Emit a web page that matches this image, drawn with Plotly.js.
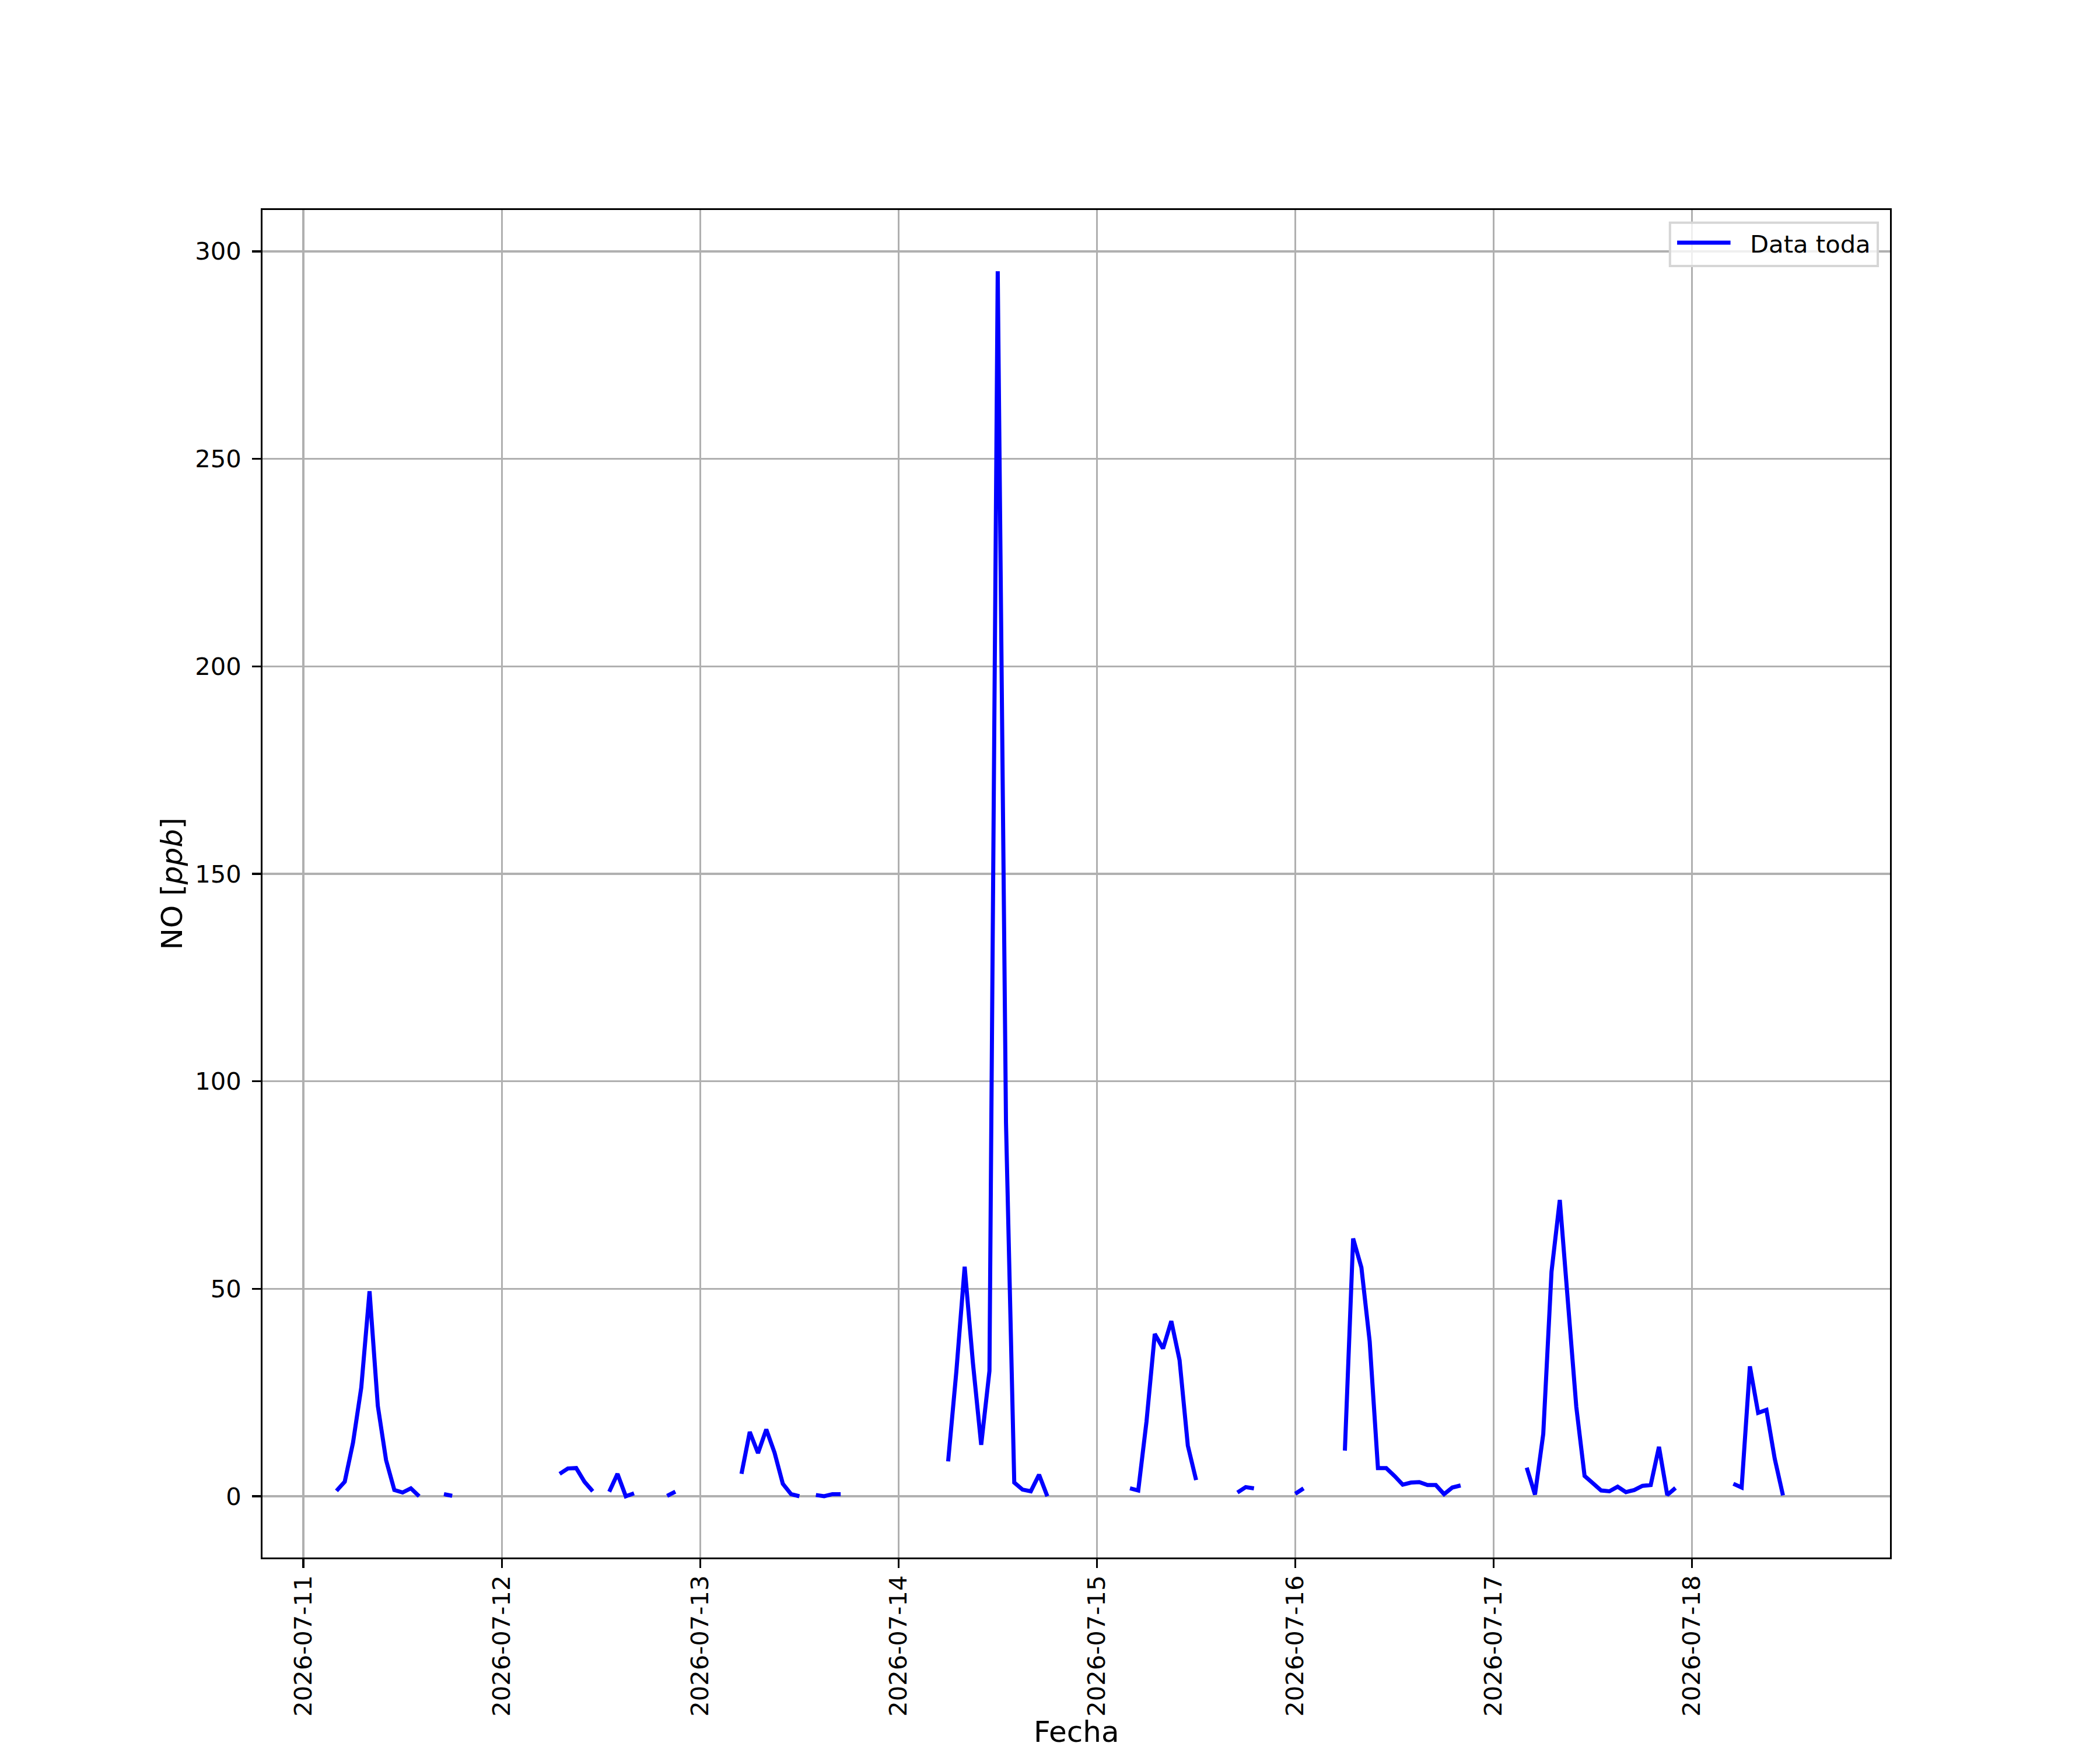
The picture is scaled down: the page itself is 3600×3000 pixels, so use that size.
<!DOCTYPE html>
<html>
<head>
<meta charset="utf-8">
<script src="https://cdn.plot.ly/plotly-3.0.1.min.js"></script>
<style>html,body{margin:0;padding:0;background:#fff;}</style>
</head>
<body>
<div id="chart" style="width:3600px;height:3000px;"></div>
<script>
// Hourly NO values [ppb], hours 00..23 of each day (null = no data)
const days = ['2026-07-11','2026-07-12','2026-07-13','2026-07-14','2026-07-15','2026-07-16','2026-07-17','2026-07-18'];
const d11 = [null,null,null,null,1.3,3.5,12.9,26.2,49.4,21.8,8.7,1.5,0.9,1.9,0.0,null,null,0.5,0.1,null,null,null,null,null];
const d12 = [null,null,null,null,null,null,null,5.4,6.7,6.8,3.5,1.2,null,1.1,5.4,0.0,0.7,null,null,null,0.1,1.1,null,null];
const d13 = [null,null,null,null,null,5.4,15.5,10.4,16.1,10.5,3.0,0.5,0.0,null,0.3,0.0,0.5,0.5,null,null,null,null,null,null];
const d14 = [null,null,null,null,null,null,8.4,30.2,55.3,32.1,12.4,30.2,295.2,90.0,3.3,1.6,1.2,5.2,0.0,null,null,null,null,null];
const d15 = [null,null,null,null,1.9,1.4,18.0,39.1,35.6,42.2,32.8,12.2,3.9,null,null,null,null,0.9,2.2,1.9,null,null,null,null];
const d16 = [0.6,1.9,null,null,null,null,11.0,62.1,55.1,37.3,6.8,6.8,4.9,2.8,3.3,3.4,2.7,2.7,0.5,2.1,2.6,null,null,null];
const d17 = [null,null,null,null,6.9,0.4,15.0,54.1,71.4,46.5,21.5,4.9,3.2,1.4,1.2,2.3,1.0,1.5,2.5,2.7,11.9,0.3,2.0,null];
const d18 = [null,null,null,null,null,3.0,2.1,31.3,20.1,20.8,9.1,0.2,null,null,null,null];
const dayValues = [d11,d12,d13,d14,d15,d16,d17,d18];
const yTicks = [0,50,100,150,200,250,300];
const seriesName = 'Data toda';
const xLabel = 'Fecha';
const yLabel = 'NO [<i>ppb</i>]';

const xs = [], ys = [];
dayValues.forEach((vals, i) => {
  vals.forEach((v, h) => {
    xs.push(days[i] + ' ' + String(h).padStart(2,'0') + ':00');
    ys.push(v);
  });
});

const font = 'DejaVu Sans, Liberation Sans, sans-serif';
const blue = '#0000ff';
const lineW = 7;
const trace = {
  x: xs, y: ys, type: 'scatter', mode: 'lines', name: seriesName,
  line: {color: blue, width: lineW}, connectgaps: false, showlegend: false
};
const axisCommon = {
  showline: true, linecolor: '#000', linewidth: 3.3, mirror: true,
  showgrid: true, gridcolor: '#b0b0b0', gridwidth: 3.3,
  ticks: 'outside', ticklen: 14.6, tickwidth: 3.3, tickcolor: '#000',
  zeroline: false,
  tickfont: {family: font, size: 41.7, color: '#000'}
};
const layout = {
  width: 3600, height: 3000,
  paper_bgcolor: '#fff', plot_bgcolor: '#fff',
  margin: {l: 450, r: 360, t: 360, b: 330, pad: 0},
  showlegend: false,
  xaxis: Object.assign({}, axisCommon, {
    type: 'date',
    range: ['2026-07-10 19:03', '2026-07-18 23:57'],
    tick0: '2026-07-11', dtick: 86400000,
    tickformat: '%Y-%m-%d', tickangle: -90,
    ticklabelstandoff: -4,
    automargin: false
  }),
  yaxis: Object.assign({}, axisCommon, {
    range: [-14.76, 309.96],
    tickmode: 'array', tickvals: yTicks, ticktext: yTicks.map(String),
    ticklabelstandoff: 10,
    title: {text: yLabel, font: {family: font, size: 50, color: '#000'}, standoff: 6},
    automargin: false
  }),
  // legend box drawn like matplotlib's (frame, sample line, label)
  shapes: [
    {type: 'rect', xref: 'paper', yref: 'paper', x0: 0.8648, x1: 0.9925, y0: 0.9584, y1: 0.9906,
     line: {color: '#d6d6d6', width: 4}, fillcolor: 'rgba(255,255,255,0.8)', layer: 'above'},
    {type: 'line', xref: 'paper', yref: 'paper', x0: 0.8692, x1: 0.9020, y0: 0.9758, y1: 0.9758,
     line: {color: blue, width: lineW}, layer: 'above'}
  ],
  annotations: [
    {xref: 'paper', yref: 'paper', x: 0.9134, y: 0.9758, xanchor: 'left', yanchor: 'middle',
     text: seriesName, showarrow: false, yshift: -3,
     font: {family: font, size: 41.7, color: '#000'}},
    {xref: 'paper', yref: 'paper', x: 0.5, y: -0.1295, xanchor: 'center', yanchor: 'middle',
     text: xLabel, showarrow: false,
     font: {family: font, size: 50, color: '#000'}}
  ]
};
Plotly.newPlot('chart', [trace], layout, {displayModeBar: false, staticPlot: true});
</script>
</body>
</html>
